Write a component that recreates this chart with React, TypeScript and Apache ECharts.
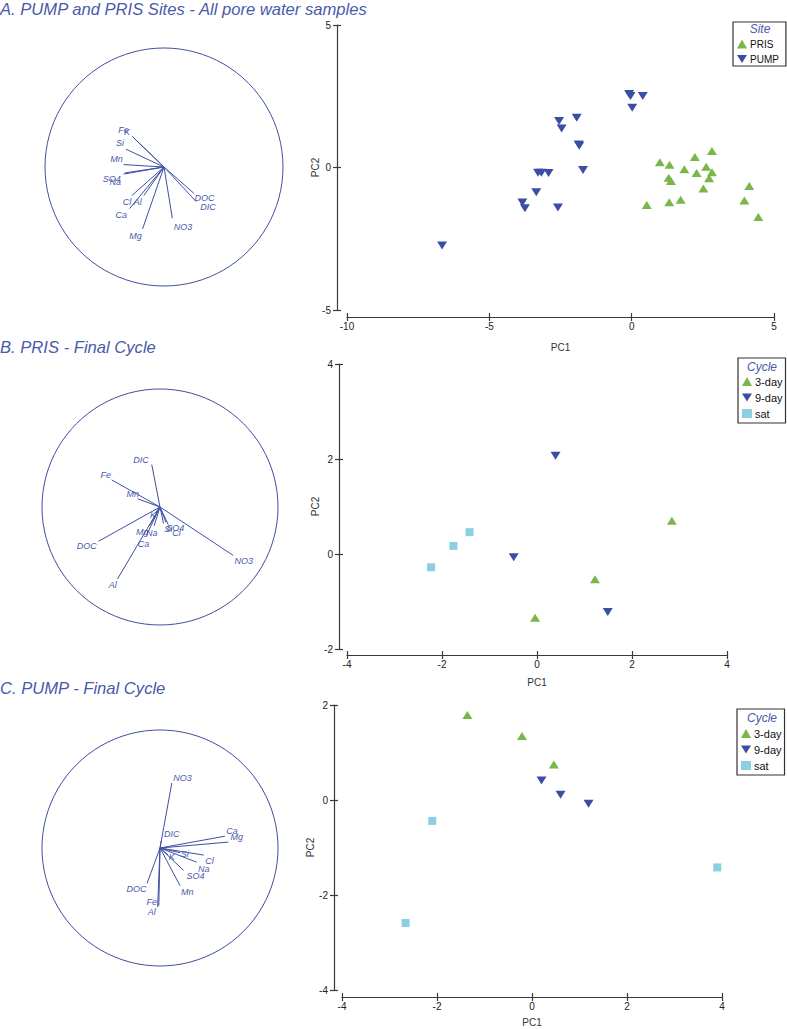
import React, { useEffect, useRef } from "react";
import * as echarts from "echarts";

// ---------- data ----------
const varsA = ["Fe", "K", "Si", "Mn", "SO4", "Na", "Cl", "Al", "Ca", "Mg", "NO3", "DOC", "DIC"];
const loadAx = [-0.27, -0.26, -0.32, -0.34, -0.34, -0.33, -0.27, -0.17, -0.29, -0.18, 0.07, 0.25, 0.27];
const loadAy = [0.26, 0.25, 0.15, 0.02, -0.06, -0.05, -0.24, -0.24, -0.35, -0.52, -0.43, -0.22, -0.29];
const labAx = [-0.34, -0.31, -0.37, -0.4, -0.44, -0.41, -0.31, -0.22, -0.36, -0.24, 0.16, 0.34, 0.37];
const labAy = [0.31, 0.29, 0.2, 0.07, -0.1, -0.13, -0.29, -0.29, -0.4, -0.58, -0.5, -0.26, -0.34];

const varsB = ["DIC", "Fe", "Mn", "K", "Si", "SO4", "Cl", "Mg", "Na", "Ca", "DOC", "Al", "NO3"];
const loadBx = [-0.07, -0.41, -0.19, -0.04, 0.03, 0.05, 0.07, -0.09, -0.05, -0.11, -0.52, -0.36, 0.62];
const loadBy = [0.36, 0.23, 0.07, -0.05, -0.14, -0.13, -0.15, -0.16, -0.16, -0.23, -0.29, -0.61, -0.41];
const labBx = [-0.16, -0.46, -0.23, -0.06, 0.07, 0.13, 0.14, -0.15, -0.07, -0.14, -0.62, -0.4, 0.71];
const labBy = [0.4, 0.27, 0.11, -0.07, -0.19, -0.18, -0.22, -0.21, -0.22, -0.31, -0.33, -0.66, -0.46];

const varsC = ["NO3", "DIC", "Ca", "Mg", "Cl", "Na", "Si", "K", "SO4", "Mn", "DOC", "Fe", "Al"];
const loadCx = [0.1, 0.01, 0.55, 0.58, 0.37, 0.31, 0.17, 0.07, 0.2, 0.17, -0.11, -0.01, -0.02];
const loadCy = [0.55, 0.06, 0.1, 0.05, -0.06, -0.12, -0.04, -0.06, -0.19, -0.32, -0.3, -0.49, -0.5];
const labCx = [0.19, 0.1, 0.61, 0.65, 0.42, 0.37, 0.21, 0.1, 0.3, 0.23, -0.2, -0.07, -0.07];
const labCy = [0.59, 0.12, 0.14, 0.09, -0.11, -0.18, -0.05, -0.08, -0.24, -0.37, -0.35, -0.46, -0.54];

// Panel A scores
const pumpX = [-6.66, -3.84, -3.75, -3.35, -3.29, -3.17, -2.92, -2.59, -2.55, -2.46, -1.93, -1.86, -1.84, -1.71, -0.09, -0.04, 0.02, 0.39];
const pumpY = [-2.74, -1.23, -1.43, -0.87, -0.18, -0.18, -0.19, -1.4, 1.63, 1.37, 1.75, 0.81, 0.76, -0.09, 2.58, 2.51, 2.1, 2.51];
const prisX = [0.53, 0.99, 1.33, 1.3, 1.38, 1.32, 1.72, 1.85, 2.22, 2.28, 2.52, 2.62, 2.72, 2.82, 2.82, 3.96, 4.13, 4.45];
const prisY = [-1.32, 0.18, 0.1, -0.36, -0.47, -1.22, -1.13, -0.06, 0.37, -0.19, -0.74, 0.03, -0.38, -0.17, 0.58, -1.16, -0.65, -1.74];

// Panel B scores
const b3dayX = [2.84, 1.22, -0.04];
const b3dayY = [0.7, -0.53, -1.34];
const b9dayX = [0.39, -0.49, 1.49];
const b9dayY = [2.07, -0.07, -1.22];
const bSatX = [-2.23, -1.76, -1.42];
const bSatY = [-0.28, 0.17, 0.46];

// Panel C scores
const c3dayX = [-1.36, -0.21, 0.46];
const c3dayY = [1.79, 1.35, 0.75];
const c9dayX = [0.2, 0.6, 1.19];
const c9dayY = [0.41, 0.11, -0.08];
const cSatX = [-2.1, -2.66, 3.9];
const cSatY = [-0.44, -2.59, -1.42];

const titles = [
  "A. PUMP and PRIS Sites - All pore water samples",
  "B. PRIS - Final Cycle",
  "C. PUMP - Final Cycle",
];

// ---------- styles ----------
const FONT = '"Liberation Sans", Arial, Helvetica, sans-serif';
const TITLE_BLUE = "#4a5aab";
const LINE_BLUE = "#3f4fa3";
const GREEN = "#7ab648";
const BLUE = "#3a4ea5";
const SAT = "#8ccfe0";
const AXIS = "#3a3a3a";
const DOWN = "path://M0,0L10,0L5,8.2Z";

const zip = (xs: number[], ys: number[]) => xs.map((x, i) => [x, ys[i]]);

function circleSeries(idx: number) {
  return {
    type: "custom",
    coordinateSystem: "cartesian2d",
    xAxisIndex: idx,
    yAxisIndex: idx,
    silent: true,
    data: [[0, 0]],
    renderItem: (_p: any, api: any) => {
      const c = api.coord([0, 0]);
      const r = api.size([1, 0])[0];
      return {
        type: "circle",
        shape: { cx: c[0], cy: c[1], r },
        style: { fill: "none", stroke: LINE_BLUE, lineWidth: 1 },
      };
    },
  };
}

function vectorSeries(idx: number, names: string[], lx: number[], ly: number[], tx: number[], ty: number[]) {
  return {
    type: "custom",
    coordinateSystem: "cartesian2d",
    xAxisIndex: idx,
    yAxisIndex: idx,
    silent: true,
    data: names.map((n, i) => ({ name: n, value: [lx[i], ly[i], tx[i], ty[i]] })),
    renderItem: (p: any, api: any) => {
      const o = api.coord([0, 0]);
      const e = api.coord([api.value(0), api.value(1)]);
      const t = api.coord([api.value(2), api.value(3)]);
      return {
        type: "group",
        children: [
          {
            type: "line",
            shape: { x1: o[0], y1: o[1], x2: e[0], y2: e[1] },
            style: { stroke: LINE_BLUE, lineWidth: 1 },
          },
          {
            type: "text",
            x: t[0],
            y: t[1],
            style: {
              text: names[p.dataIndex],
              fill: TITLE_BLUE,
              font: `italic 9px ${FONT}`,
              align: "center",
              verticalAlign: "middle",
              textAlign: "center",
              textVerticalAlign: "middle",
            },
          },
        ],
      };
    },
  };
}

function hiddenAxis(idx: number) {
  return { type: "value", gridIndex: idx, min: -1, max: 1, show: false };
}

function mainX(g: number, min: number, max: number, interval: number, offset: number, nameGap: number) {
  return {
    type: "value",
    gridIndex: g,
    min,
    max,
    interval,
    position: "bottom",
    offset,
    name: "PC1",
    nameLocation: "middle",
    nameGap,
    nameMoveOverlap: false,
    nameTextStyle: { fontSize: 10, color: "#333", fontFamily: FONT },
    axisLine: { show: true, onZero: false, lineStyle: { color: AXIS, width: 1.2 } },
    axisTick: { show: true, length: 4, lineStyle: { color: AXIS, width: 1.2 } },
    axisLabel: { fontSize: 10, color: "#222", margin: 4, fontFamily: FONT },
    splitLine: { show: false },
  };
}
function mainY(g: number, min: number, max: number, interval: number, offset: number, nameGap: number) {
  return {
    type: "value",
    gridIndex: g,
    min,
    max,
    interval,
    position: "left",
    offset,
    name: "PC2",
    nameLocation: "middle",
    nameGap,
    nameMoveOverlap: false,
    nameRotate: 90,
    nameTextStyle: { fontSize: 10, color: "#333", fontFamily: FONT },
    axisLine: { show: true, onZero: false, lineStyle: { color: AXIS, width: 1.2 } },
    axisTick: { show: true, length: 4, lineStyle: { color: AXIS, width: 1.2 } },
    axisLabel: { fontSize: 10, color: "#222", margin: 6, fontFamily: FONT },
    splitLine: { show: false },
  };
}
function innerTicks(base: any) {
  return {
    ...base,
    name: "",
    axisLine: { show: false, onZero: false },
    axisLabel: { show: false },
    axisTick: { show: true, inside: true, length: 4, lineStyle: { color: AXIS, width: 1.2 } },
  };
}

function scatter(name: string, g: number, xs: number[], ys: number[], kind: "up" | "down" | "sq") {
  const base: any = {
    type: "scatter",
    name,
    xAxisIndex: g,
    yAxisIndex: g,
    data: zip(xs, ys),
    silent: true,
  };
  if (kind === "up") {
    base.symbol = "triangle";
    base.symbolSize = [10, 8];
    base.itemStyle = { color: GREEN, opacity: 1 };
  } else if (kind === "down") {
    base.symbol = "triangle";
    base.symbolRotate = 180;
    base.symbolSize = [10, 8];
    base.itemStyle = { color: BLUE, opacity: 1 };
  } else {
    base.symbol = "rect";
    base.symbolSize = 8;
    base.itemStyle = { color: SAT, opacity: 1 };
  }
  return base;
}

function legend(left: number, top: number, padTop: number, padBottom: number, padRight: number, items: any[], fontSize: number) {
  return {
    orient: "vertical",
    left,
    top,
    padding: [padTop, padRight, padBottom, 4],
    borderColor: "#333",
    borderWidth: 1.2,
    itemWidth: 10,
    itemHeight: 9,
    itemGap: 5,
    selectedMode: false,
    textStyle: { fontSize, color: "#111", fontFamily: FONT, padding: [0, 0, 0, -2] },
    data: items,
  };
}

export default function App() {
  const ref = useRef<HTMLDivElement>(null);
  useEffect(() => {
    if (!ref.current) return;
    const chart = echarts.init(ref.current, undefined, { renderer: "svg" });

    const xA = mainX(3, -10, 5, 5, 7, 25);
    const yA = mainY(3, -5, 5, 5, 10, 17);
    const xB = mainX(4, -4, 4, 2, 6, 22);
    const yB = mainY(4, -2, 4, 2, 8, 19);
    const xC = mainX(5, -4, 4, 2, 7, 20);
    const yC = mainY(5, -4, 2, 2, 8, 19);

    const option: any = {
      animation: false,
      backgroundColor: "#ffffff",
      grid: [
        { left: 45, top: 48, width: 238, height: 238, outerBoundsMode: "none" },
        { left: 42, top: 389, width: 236, height: 236, outerBoundsMode: "none" },
        { left: 42, top: 730, width: 236, height: 236, outerBoundsMode: "none" },
        { left: 347, top: 25, width: 427, height: 285, outerBoundsMode: "none" },
        { left: 347, top: 364, width: 380, height: 285, outerBoundsMode: "none" },
        { left: 342, top: 705, width: 380, height: 285, outerBoundsMode: "none" },
      ],
      xAxis: [
        hiddenAxis(0), hiddenAxis(1), hiddenAxis(2),
        xA, xB, xC,
        innerTicks(xA), innerTicks(xB), innerTicks(xC),
      ],
      yAxis: [
        hiddenAxis(0), hiddenAxis(1), hiddenAxis(2),
        yA, yB, yC,
        innerTicks(yA), innerTicks(yB), innerTicks(yC),
      ],
      legend: [
        legend(733, 22, 17, 2, 7, [
          { name: "PRIS", icon: "triangle", itemStyle: { color: GREEN } },
          { name: "PUMP", icon: DOWN, itemStyle: { color: BLUE } },
        ], 10),
        legend(738, 358, 18, 4, 3, [
          { name: "3-day", icon: "triangle", itemStyle: { color: GREEN } },
          { name: "9-day", icon: DOWN, itemStyle: { color: BLUE } },
          { name: "sat", icon: "rect", itemStyle: { color: SAT } },
        ], 11),
        legend(737, 709, 19, 4, 3, [
          { name: "3-day", icon: "triangle", itemStyle: { color: GREEN } },
          { name: "9-day", icon: DOWN, itemStyle: { color: BLUE } },
          { name: "sat", icon: "rect", itemStyle: { color: SAT } },
        ], 11),
      ],
      graphic: [
        { type: "text", x: 0, y: 9, style: { text: titles[0], fill: TITLE_BLUE, font: `italic 16.6px ${FONT}`, textVerticalAlign: "middle", verticalAlign: "middle" } },
        { type: "text", x: 0, y: 347, style: { text: titles[1], fill: TITLE_BLUE, font: `italic 16.6px ${FONT}`, textVerticalAlign: "middle", verticalAlign: "middle" } },
        { type: "text", x: 0, y: 688, style: { text: titles[2], fill: TITLE_BLUE, font: `italic 16.6px ${FONT}`, textVerticalAlign: "middle", verticalAlign: "middle" } },
        { type: "text", x: 760, y: 29, style: { text: "Site", fill: TITLE_BLUE, font: `italic 12px ${FONT}`, textAlign: "center", align: "center", textVerticalAlign: "middle", verticalAlign: "middle" } },
        { type: "text", x: 762, y: 367, style: { text: "Cycle", fill: TITLE_BLUE, font: `italic 12px ${FONT}`, textAlign: "center", align: "center", textVerticalAlign: "middle", verticalAlign: "middle" } },
        { type: "text", x: 762, y: 718, style: { text: "Cycle", fill: TITLE_BLUE, font: `italic 12px ${FONT}`, textAlign: "center", align: "center", textVerticalAlign: "middle", verticalAlign: "middle" } },
      ],
      series: [
        circleSeries(0),
        vectorSeries(0, varsA, loadAx, loadAy, labAx, labAy),
        circleSeries(1),
        vectorSeries(1, varsB, loadBx, loadBy, labBx, labBy),
        circleSeries(2),
        vectorSeries(2, varsC, loadCx, loadCy, labCx, labCy),
        scatter("PRIS", 3, prisX, prisY, "up"),
        scatter("PUMP", 3, pumpX, pumpY, "down"),
        scatter("3-day", 4, b3dayX, b3dayY, "up"),
        scatter("9-day", 4, b9dayX, b9dayY, "down"),
        scatter("sat", 4, bSatX, bSatY, "sq"),
        scatter("3-day", 5, c3dayX, c3dayY, "up"),
        scatter("9-day", 5, c9dayX, c9dayY, "down"),
        scatter("sat", 5, cSatX, cSatY, "sq"),
      ],
    };
    chart.setOption(option);
    return () => chart.dispose();
  }, []);
  return (
    <div
      ref={ref}
      style={{ position: "absolute", left: 0, top: 0, width: 787, height: 1029, background: "#fff" }}
    />
  );
}
